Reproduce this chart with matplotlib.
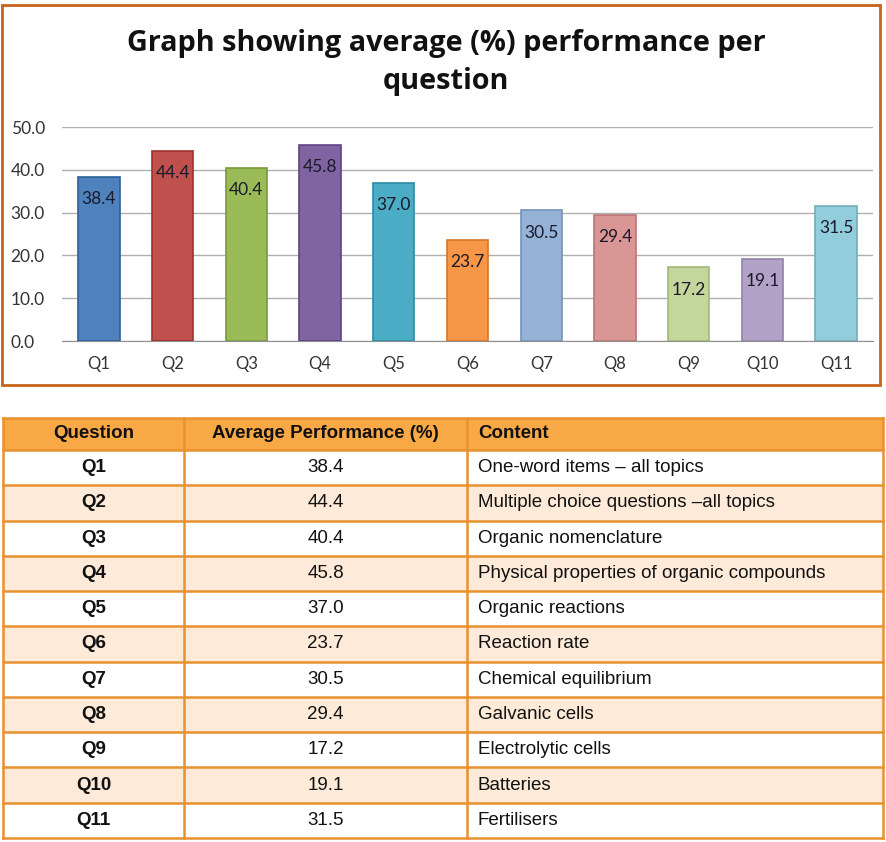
import matplotlib
matplotlib.use("Agg")
import matplotlib.pyplot as plt
from matplotlib.patches import Rectangle
import numpy as np

questions = ["Q1", "Q2", "Q3", "Q4", "Q5", "Q6", "Q7", "Q8", "Q9", "Q10", "Q11"]
performance = [38.4, 44.4, 40.4, 45.8, 37.0, 23.7, 30.5, 29.4, 17.2, 19.1, 31.5]
contents = ["One-word items \u2013 all topics",
            "Multiple choice questions \u2013all topics",
            "Organic nomenclature",
            "Physical properties of organic compounds",
            "Organic reactions",
            "Reaction rate",
            "Chemical equilibrium",
            "Galvanic cells",
            "Electrolytic cells",
            "Batteries",
            "Fertilisers"]
headers = ["Question", "Average Performance (%)", "Content"]
yticks = [0, 10, 20, 30, 40, 50]

bar_colors = ["#4F81BD", "#C0504D", "#9BBB59", "#8064A2", "#4BACC6", "#F79646",
              "#95B3D7", "#D99694", "#C3D69B", "#B3A2C7", "#92CDDC"]
edge_colors = ["#2F5F9A", "#A0302D", "#7A9A3A", "#604482", "#2B8CA6", "#D77626",
               "#7593B7", "#B97674", "#A3B67B", "#9382A7", "#72ADBC"]

W, H = 887, 842
fig = plt.figure(figsize=(W / 100, H / 100), dpi=100)

def fx(px):
    return px / W

def fy(py):
    return 1 - py / H

# chart border
border = Rectangle((fx(2), fy(385)), fx(880) - fx(2), fy(5) - fy(385),
                   transform=fig.transFigure, fill=False, edgecolor="#C8631C", lw=2)
fig.patches.append(border)

fig.text(fx(446), fy(43), "Graph showing average (%) performance per",
         ha="center", va="center", fontsize=20.8, fontweight="bold",
         family="Open Sans", color="#111111")
fig.text(fx(446), fy(81), "question", ha="center", va="center", fontsize=20.8,
         fontweight="bold", family="Open Sans", color="#111111")

ax = fig.add_axes([fx(62), fy(341), fx(873) - fx(62), fy(127) - fy(341)])
x = np.arange(len(questions))
ax.bar(x, performance, width=0.56, color=bar_colors, edgecolor=edge_colors,
       linewidth=1.2, zorder=3)
for xi, v in zip(x, performance):
    ax.annotate(f"{v:.1f}", (xi, v), xytext=(0, -16), textcoords="offset points",
                ha="center", va="center", fontsize=12.5, family="Lato",
                color="#1a1a2a", zorder=4)
ax.set_xlim(-0.5, len(questions) - 0.5)
ax.set_ylim(0, 50)
ax.set_yticks(yticks)
ax.set_yticklabels([f"{t:.1f}" for t in yticks], family="Lato", fontsize=12.5,
                   color="#333333")
ax.set_xticks(x)
ax.set_xticklabels(questions, family="Lato", fontsize=12, color="#333333")
ax.tick_params(axis="both", length=0)
ax.tick_params(axis="x", pad=11)
ax.tick_params(axis="y", pad=37)
for lab in ax.get_yticklabels():
    lab.set_horizontalalignment("left")
ax.yaxis.grid(True, color="#B0B0B0", lw=1, zorder=0)
for s in ["top", "right", "left"]:
    ax.spines[s].set_visible(False)
ax.spines["bottom"].set_color("#909090")
ax.set_facecolor("none")

# table
tax = fig.add_axes([0, 0, 1, 1])
tax.set_xlim(0, W)
tax.set_ylim(H, 0)
tax.axis("off")
col_edges = [3, 184, 467, 883]
top, header_bot, bottom = 418, 450, 838
row_h = (bottom - header_bot) / len(questions)
orange = "#E8912F"
header_fc = "#F9A846"
alt_fc = "#FDEAD8"

tax.add_patch(Rectangle((col_edges[0], top), col_edges[-1] - col_edges[0],
                        header_bot - top, facecolor=header_fc, edgecolor="none"))
for i in range(len(questions)):
    y0 = header_bot + i * row_h
    fc = "white" if i % 2 == 0 else alt_fc
    tax.add_patch(Rectangle((col_edges[0], y0), col_edges[-1] - col_edges[0], row_h,
                            facecolor=fc, edgecolor="none"))
# grid lines
for i in range(len(questions) + 2):
    yy = top if i == 0 else header_bot + (i - 1) * row_h
    tax.plot([col_edges[0], col_edges[-1]], [yy, yy], color=orange, lw=1.8)
for xx in col_edges:
    tax.plot([xx, xx], [top, bottom], color=orange, lw=1.8)

tfont = dict(family="Liberation Sans", fontsize=13.5, color="#111111")
hy = (top + header_bot) / 2
tax.text((col_edges[0] + col_edges[1]) / 2, hy, headers[0], ha="center", va="center",
         fontweight="bold", **tfont)
tax.text((col_edges[1] + col_edges[2]) / 2, hy, headers[1], ha="center", va="center",
         fontweight="bold", **tfont)
tax.text(col_edges[2] + 11, hy, headers[2], ha="left", va="center",
         fontweight="bold", **tfont)
for i, (q, v, c) in enumerate(zip(questions, performance, contents)):
    yc = header_bot + (i + 0.5) * row_h
    tax.text((col_edges[0] + col_edges[1]) / 2, yc, q, ha="center", va="center",
             fontweight="bold", **tfont)
    tax.text((col_edges[1] + col_edges[2]) / 2, yc, f"{v:.1f}", ha="center",
             va="center", **tfont)
    tax.text(col_edges[2] + 11, yc, c, ha="left", va="center", **tfont)

fig.savefig("out.png", dpi=100)
